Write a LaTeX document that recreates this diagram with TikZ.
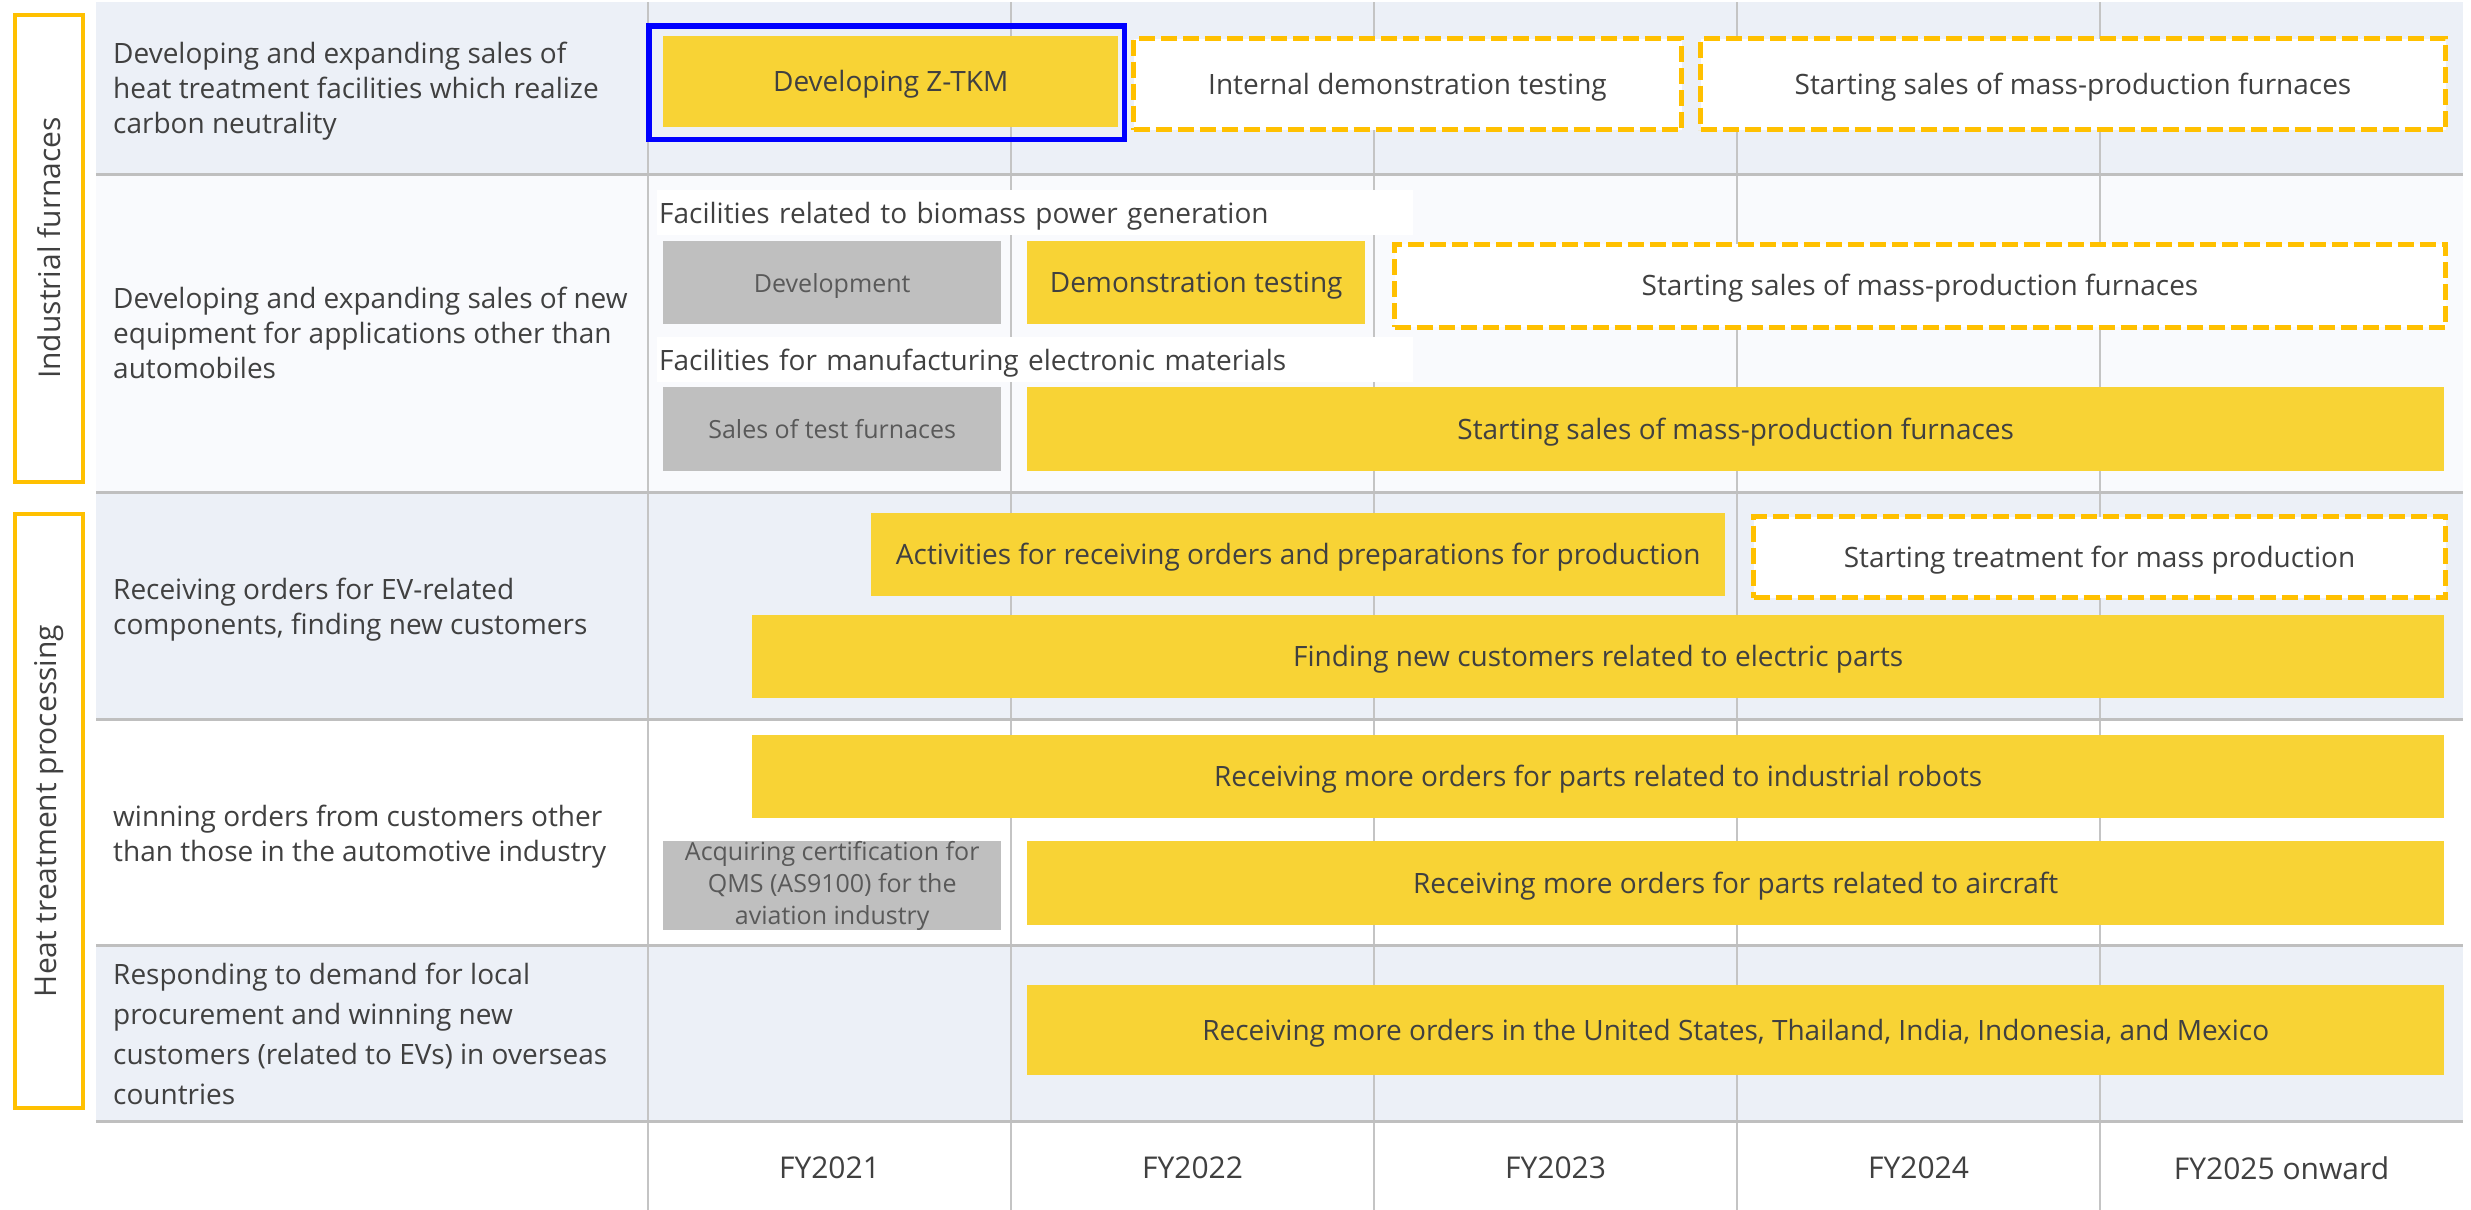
\documentclass[tikz,border=0pt]{standalone}
\usepackage{fontspec}
\setmainfont{Open Sans}
\definecolor{barY}{HTML}{F8D335}
\definecolor{boxG}{HTML}{BFBFBF}
\definecolor{txtG}{HTML}{595959}
\definecolor{txtD}{HTML}{404040}
\definecolor{rowA}{HTML}{ECF0F7}
\definecolor{rowB}{HTML}{F9FAFD}
\definecolor{lineG}{HTML}{C4C4C4}
\definecolor{sepG}{HTML}{BFBFBF}
\definecolor{amber}{HTML}{FFC000}
\tikzset{
  txt/.style={text=txtD, font=\fontsize{28}{35}\selectfont},
  oneline/.style={text height=20pt, text depth=0pt},
  planbar/.style={txt, oneline, fill=barY, draw=none, inner sep=0pt, anchor=north west, align=center},
  prepbar/.style={fill=boxG, draw=none, inner sep=0pt, anchor=north west, align=center,
    text=txtG, font=\fontsize{25}{32}\selectfont},
  futurebar/.style={txt, oneline, fill=white, draw=amber, line width=5pt, dash pattern=on 16pt off 6pt,
    inner sep=0pt, anchor=north west, align=center},
  highlight/.style={draw=blue, line width=5.5pt, inner sep=0pt, anchor=north west},
  sublabel/.style={txt, text height=22pt, text depth=0pt, fill=white, inner xsep=2pt, inner ysep=0pt,
    anchor=north west, text width=752pt, align=left, minimum height=45pt},
  rowlabel/.style={txt, inner sep=0pt, anchor=west, align=left},
  catbox/.style={draw=amber, line width=4pt, fill=white, rotate=90, inner sep=0pt,
    text=txtD, font=\fontsize{30}{36}\selectfont},
  yearlabel/.style={txt, font=\fontsize{30}{36}\selectfont, inner sep=0pt},
  gridline/.style={draw=lineG, line width=2.5pt},
  rowsep/.style={draw=sepG, line width=3pt}
}
\begin{document}
\begin{tikzpicture}[x=1pt,y=-1pt]
% canvas
\fill[white] (0,0) rectangle (2471,1210);
\useasboundingbox (0,0) rectangle (2471,1210);

% row backgrounds
\fill[rowA] (96,2) rectangle (2463,174);
\fill[rowB] (96,174) rectangle (2463,492);
\fill[rowA] (96,492) rectangle (2463,719);
\fill[white] (96,719) rectangle (2463,945);
\fill[rowA] (96,945) rectangle (2463,1121);

% column rules
\foreach \x in {648,1011,1374,1737,2100}
  \draw[gridline] (\x,2) -- (\x,1210);
% row rules
\foreach \y in {174,492,719,945,1121}
  \draw[rowsep] (96,\y) -- (2463,\y);

% category boxes
\node[catbox, minimum width=467pt, minimum height=68pt] (catfurn) at (48.7,248) {Industrial furnaces};
\node[catbox, minimum width=594pt, minimum height=68pt] (catheat) at (48.7,811) {Heat treatment processing};

% row headings
\node[rowlabel] (r1) at (113,91) {Developing and expanding sales of\\heat treatment facilities which realize\\carbon neutrality};
\node[rowlabel] (r2) at (113,333) {Developing and expanding sales of new\\equipment for applications other than\\automobiles};
\node[rowlabel] (r3) at (113,610) {Receiving orders for EV-related\\components, finding new customers};
\node[rowlabel] (r4) at (113,837) {winning orders from customers other\\than those in the automotive industry};
\node[rowlabel, font=\fontsize{28}{40}\selectfont] (r5) at (113,1034) {Responding to demand for local\\procurement and winning new\\customers (related to EVs) in overseas\\countries};

% carbon-neutral furnaces
\node[planbar, minimum width=455pt, minimum height=91pt] (ztkm) at (663,36) {Developing Z-TKM};
\node[highlight, minimum width=475.5pt, minimum height=113.5pt] (ztkmhl) at (646,23) {};
\node[futurebar, minimum width=548pt, minimum height=91pt] (intdemo) at (1131,36) {Internal demonstration testing};
\node[futurebar, minimum width=745pt, minimum height=91pt] (mass1) at (1698,36) {Starting sales of mass-production furnaces};

% non-automotive equipment
\node[sublabel] (biomass) at (657,190) {Facilities related to biomass power generation};
\node[prepbar, oneline, text height=19pt, minimum width=338pt, minimum height=83pt] (devel) at (663,241) {Development};
\node[planbar, minimum width=338pt, minimum height=83pt] (demo) at (1027,241) {Demonstration testing};
\node[futurebar, minimum width=1051pt, minimum height=83pt] (mass2) at (1392,241.5) {Starting sales of mass-production furnaces};
\node[sublabel] (elec) at (657,337) {Facilities for manufacturing electronic materials};
\node[prepbar, oneline, text height=19pt, minimum width=338pt, minimum height=84pt] (testf) at (663,387) {Sales of test furnaces};
\node[planbar, minimum width=1417pt, minimum height=84pt] (mass3) at (1027,387) {Starting sales of mass-production furnaces};

% EV-related components
\node[planbar, minimum width=854pt, minimum height=83pt] (prep) at (871,513) {Activities for receiving orders and preparations for production};
\node[futurebar, minimum width=692pt, minimum height=81pt] (treat) at (1751,514) {Starting treatment for mass production};
\node[planbar, minimum width=1692pt, minimum height=83pt] (elecparts) at (752,615) {Finding new customers related to electric parts};

% non-automotive customers
\node[planbar, minimum width=1692pt, minimum height=83pt] (robots) at (752,735) {Receiving more orders for parts related to industrial robots};
\node[prepbar, minimum width=338pt, minimum height=83pt] (qms) at (663,841) {Acquiring certification for\\QMS (AS9100) for the\\aviation industry};
\node[planbar, minimum width=1417pt, minimum height=84pt] (aircraft) at (1027,841) {Receiving more orders for parts related to aircraft};

% overseas
\node[planbar, minimum width=1417pt, minimum height=90pt] (overseas) at (1027,985) {Receiving more orders in the United States, Thailand, India, Indonesia, and Mexico};

% fiscal years
\node[yearlabel] (fy21) at (829.5,1168) {FY2021};
\node[yearlabel] (fy22) at (1192.5,1168) {FY2022};
\node[yearlabel] (fy23) at (1555.5,1168) {FY2023};
\node[yearlabel] (fy24) at (1918.5,1168) {FY2024};
\node[yearlabel] (fy25) at (2281.5,1168) {FY2025 onward};
\end{tikzpicture}
\end{document}
